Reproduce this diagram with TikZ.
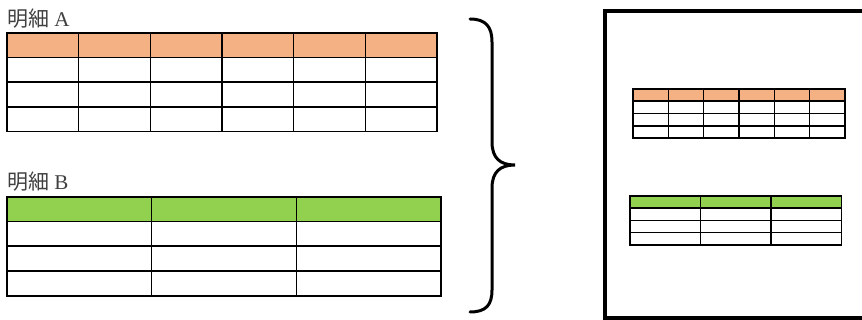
\documentclass[tikz,border=0pt]{standalone}
\usepackage{fontspec}
\setmainfont{Liberation Serif}
\newfontfamily\cjk{Noto Sans CJK JP}

\definecolor{hdrorange}{HTML}{F4B183}
\definecolor{hdrgreen}{HTML}{92D050}

\begin{document}
\begin{tikzpicture}[x=1pt, y=-1pt,
    cell/.style={black, line width=1.6pt},
    frame/.style={black, line width=1.8pt},
    smallcell/.style={black, line width=1.1pt},
    tag/.style={anchor=base west, inner sep=0pt, text=black!75,
        font=\fontsize{21}{24}\selectfont}]
    \useasboundingbox (0,0) rectangle (862,320);
    \clip (0,0) rectangle (862,320);

    % left: the two tables
    \node[tag] (tagA) at (7,27) {{\cjk 明細} A};
    \begin{scope}
        \fill[hdrorange] (7,33) rectangle (437,57.5);
        \foreach \r in {57.5,82,107}
            \draw[cell] (7,\r) -- (437,\r);
        \foreach \c in {1,...,5}
            \draw[cell] ({7+\c*430/6},33) -- ({7+\c*430/6},131.5);
        \draw[frame] (7,33) rectangle (437,131.5);
    \end{scope}

    \node[tag] (tagB) at (7,190) {{\cjk 明細} B};
    \begin{scope}
        \fill[hdrgreen] (7,197) rectangle (441,221.5);
        \foreach \r in {221.5,246,271}
            \draw[cell] (7,\r) -- (441,\r);
        \foreach \c in {1,2}
            \draw[cell] ({7+\c*434/3},197) -- ({7+\c*434/3},296);
        \draw[frame] (7,197) rectangle (441,296);
    \end{scope}

    % brace
    \draw[black, line width=3pt, line cap=round]
        (470,19) .. controls (486,19) and (492,27) .. (492,42)
        -- (492,142) .. controls (492,158) and (500,165) .. (515,165)
        .. controls (500,165) and (492,172) .. (492,188)
        -- (492,290) .. controls (492,305) and (486,312) .. (470,312);

    % right: the page
    \draw[black, line width=4pt] (604.5,11.5) rectangle (875,318.5);

    \begin{scope}[cell/.style={smallcell}, frame/.style={black, line width=1.6pt}]
        \fill[hdrorange] (633,89) rectangle (845,101);
        \foreach \r in {101,113.5,126}
            \draw[cell] (633,\r) -- (845,\r);
        \foreach \c in {1,...,5}
            \draw[cell] ({633+\c*212/6},89) -- ({633+\c*212/6},138);
        \draw[frame] (633,89) rectangle (845,138);

        \fill[hdrgreen] (630,196) rectangle (841.5,208);
        \foreach \r in {208,220.2,232.5}
            \draw[cell] (630,\r) -- (841.5,\r);
        \foreach \c in {1,2}
            \draw[cell] ({630+\c*211.5/3},196) -- ({630+\c*211.5/3},245);
        \draw[frame] (630,196) rectangle (841.5,245);
    \end{scope}
\end{tikzpicture}
\end{document}
